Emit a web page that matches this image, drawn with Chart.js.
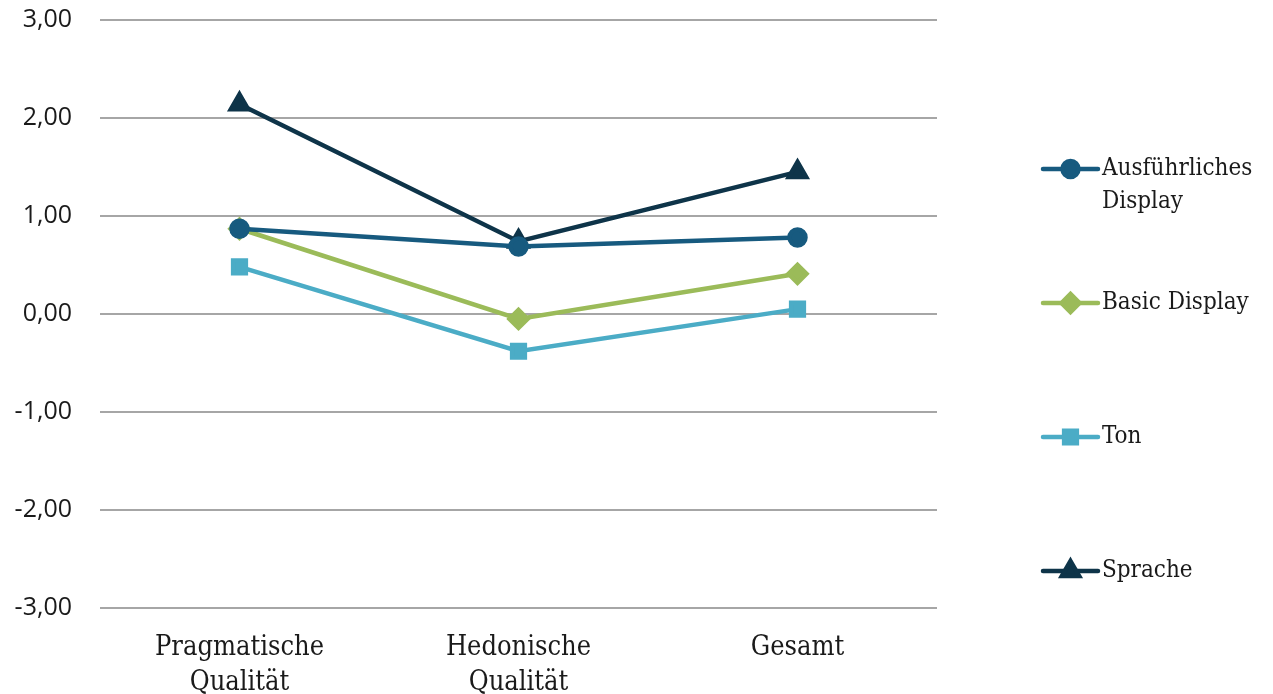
<!DOCTYPE html>
<html>
<head>
<meta charset="utf-8">
<script src="https://cdn.jsdelivr.net/npm/chart.js@4.4.1/dist/chart.umd.min.js"></script>
<style>
  html, body { margin: 0; padding: 0; background: #fff; }
  #wrap { width: 1273px; height: 694px; position: relative; }
</style>
</head>
<body>
<div id="wrap"><canvas id="chart"></canvas></div>
<script>
// categories and series
const categories = [["Pragmatische", "Qualität"], ["Hedonische", "Qualität"], "Gesamt"];
const seriesNames = ["Ausführliches Display", "Basic Display", "Ton", "Sprache"];
const ausfuehrlich = [0.87, 0.69, 0.78];
const basic = [0.87, -0.05, 0.41];
const ton = [0.48, -0.38, 0.05];
const sprache = [2.14, 0.74, 1.45];
const yTicks = [-3, -2, -1, 0, 1, 2, 3];

const colors = ["#175a7f", "#9bbb59", "#4bacc6", "#0e3449"];
const markers = ["circle", "rectRot", "rect", "triangle"];
const markerSizes = [8, 9, 9, 10];
const values = [ausfuehrlich, basic, ton, sprache];

// legend drawn on the right, like the office chart
const sideLegend = {
    id: "sideLegend",
    afterDraw(chart) {
        const ctx = chart.ctx;
        const x0 = 1043, x1 = 1098, tx = 1102;
        ctx.save();
        ctx.font = "24px 'DejaVu Serif Condensed', 'DejaVu Serif', serif";
        ctx.textBaseline = "middle";
        chart.data.datasets.forEach((ds, i) => {
            const y = 169 + i * 134;
            ctx.strokeStyle = ds.borderColor;
            ctx.lineWidth = 4.5;
            ctx.lineCap = "round";
            ctx.beginPath();
            ctx.moveTo(x0, y);
            ctx.lineTo(x1, y);
            ctx.stroke();
            ctx.fillStyle = ds.backgroundColor;
            Chart.helpers.drawPoint(ctx, { pointStyle: ds.pointStyle, radius: ds.pointRadius, rotation: 0, borderWidth: 1 }, (x0 + x1) / 2, y);
            // simple word wrap
            const words = ds.label.split(" ");
            let lines = [], cur = "";
            words.forEach(w => {
                const test = cur ? cur + " " + w : w;
                if (ctx.measureText(test).width > 165 && cur) { lines.push(cur); cur = w; }
                else cur = test;
            });
            lines.push(cur);
            ctx.fillStyle = "#1a1a1a";
            lines.forEach((ln, k) => ctx.fillText(ln, tx, y + k * 33));
        });
        ctx.restore();
    }
};

new Chart(document.getElementById("chart"), {
    type: "line",
    data: {
        labels: categories,
        datasets: seriesNames.map((name, i) => ({
            label: name,
            data: values[i],
            borderColor: colors[i],
            backgroundColor: colors[i],
            pointStyle: markers[i],
            pointRadius: markerSizes[i],
            pointBorderColor: colors[i],
            pointBackgroundColor: colors[i],
            borderWidth: 4.5,
            tension: 0
        }))
    },
    options: {
        responsive: true,
        maintainAspectRatio: false,
        animation: false,
        layout: { padding: { top: 20, right: 336, left: 0, bottom: 0 } },
        plugins: { legend: { display: false }, tooltip: { enabled: false } },
        scales: {
            x: {
                offset: true,
                grid: { display: false },
                border: { display: false },
                afterFit(axis) { axis.height = 86; axis.paddingLeft = 0; axis.paddingRight = 0; },
                ticks: {
                    color: "#1a1a1a",
                    padding: 14,
                    maxRotation: 0,
                    font: { family: "'DejaVu Serif Condensed', 'DejaVu Serif', serif", size: 27, lineHeight: 1.3 }
                }
            },
            y: {
                min: -3,
                max: 3,
                afterBuildTicks(axis) { axis.ticks = yTicks.map(v => ({ value: v })); },
                afterFit(axis) { axis.width = 100; axis.paddingTop = 0; axis.paddingBottom = 0; },
                grid: { color: "#a6a6a6", lineWidth: 2, drawTicks: false },
                border: { display: false },
                ticks: {
                    color: "#1a1a1a",
                    padding: 28,
                    font: { family: "'Open Sans', sans-serif", size: 25 },
                    callback: v => v.toFixed(2).replace(".", ",")
                }
            }
        }
    },
    plugins: [sideLegend]
});
</script>
</body>
</html>
